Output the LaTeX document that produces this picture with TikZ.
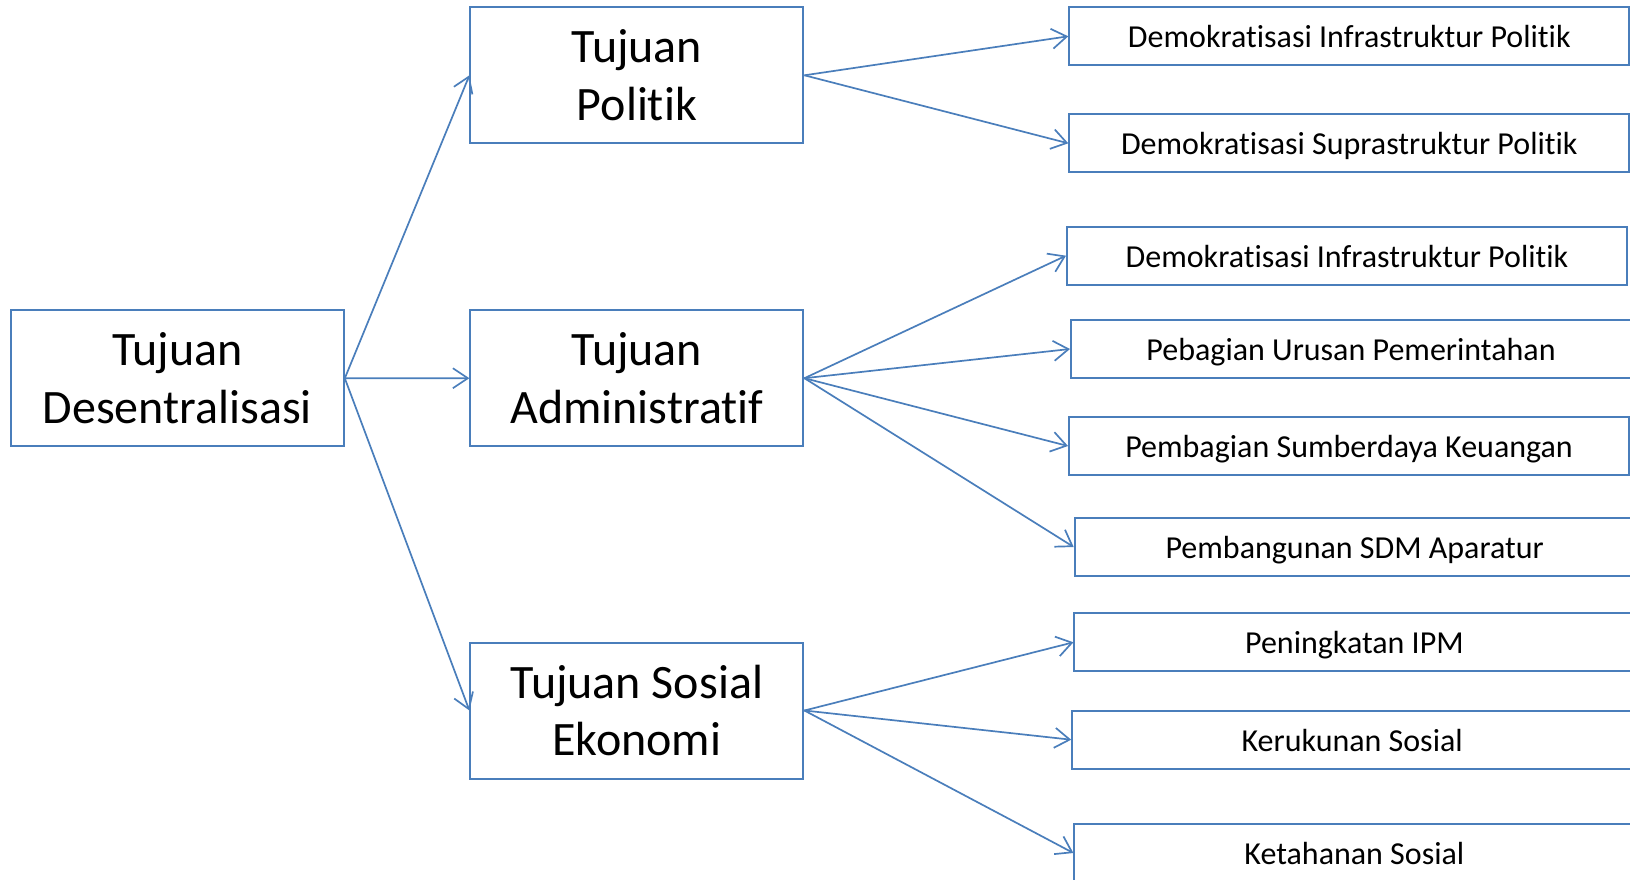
\documentclass[tikz,border=0pt]{standalone}
\usepackage{fontspec}
\setmainfont{Carlito}[Ligatures={NoCommon}]
\usetikzlibrary{arrows.meta}
\definecolor{lineblue}{HTML}{4A7EBB}
\begin{document}
\begin{tikzpicture}[x=1bp,y=-1bp,
  bigbox/.style={draw=lineblue, line width=2bp, fill=white, minimum width=333bp, minimum height=136bp,
    inner sep=0pt, align=center, font=\fontsize{48bp}{57.5bp}\selectfont},
  smallbox/.style={draw=lineblue, line width=2bp, fill=white, minimum width=560bp, minimum height=58bp,
    inner sep=0pt, text height=22.6bp, text depth=0pt, font=\fontsize{32bp}{38bp}\selectfont},
  conn/.style={draw=lineblue, line width=1.7bp, -{Straight Barb[length=15bp,width=20bp,line width=1.7bp]}}
]
\useasboundingbox (0,0) rectangle (1630,879);
\clip (0,0) rectangle (1630,879);
% main boxes
\node[bigbox] (des) at (177.3,378.3) {Tujuan\\Desentralisasi};
\node[bigbox] (pol) at (636.9,75.3) {Tujuan\\Politik};
\node[bigbox] (adm) at (636.9,378.2) {Tujuan\\Administratif};
\node[bigbox] (sos) at (636.9,710.5) {Tujuan Sosial\\Ekonomi};
% right boxes
\node[smallbox] (p1) at (1349.3,36.3) {Demokratisasi Infrastruktur Politik};
\node[smallbox] (p2) at (1349.3,143.3) {Demokratisasi Suprastruktur Politik};
\node[smallbox] (a1) at (1347,255.7) {Demokratisasi Infrastruktur Politik};
\node[smallbox] (a2) at (1351,349) {Pebagian Urusan Pemerintahan};
\node[smallbox] (a3) at (1349,446) {Pembagian Sumberdaya Keuangan};
\node[smallbox] (a4) at (1354.7,547) {Pembangunan SDM Aparatur};
\node[smallbox] (s1) at (1354.4,642.3) {Peningkatan IPM};
\node[smallbox] (s2) at (1352.2,739.7) {Kerukunan Sosial};
\node[smallbox] (s3) at (1354.4,853) {Ketahanan Sosial};
% connectors
\draw[conn] (des.east) -- (pol.west);
\draw[conn] (des.east) -- (adm.west);
\draw[conn] (des.east) -- (sos.west);
\draw[conn] (pol.east) -- (p1.west);
\draw[conn] (pol.east) -- (p2.west);
\draw[conn] (adm.east) -- (a1.west);
\draw[conn] (adm.east) -- (a2.west);
\draw[conn] (adm.east) -- (a3.west);
\draw[conn] (adm.east) -- (a4.west);
\draw[conn] (sos.east) -- (s1.west);
\draw[conn] (sos.east) -- (s2.west);
\draw[conn] (sos.east) -- (s3.west);
\end{tikzpicture}
\end{document}
